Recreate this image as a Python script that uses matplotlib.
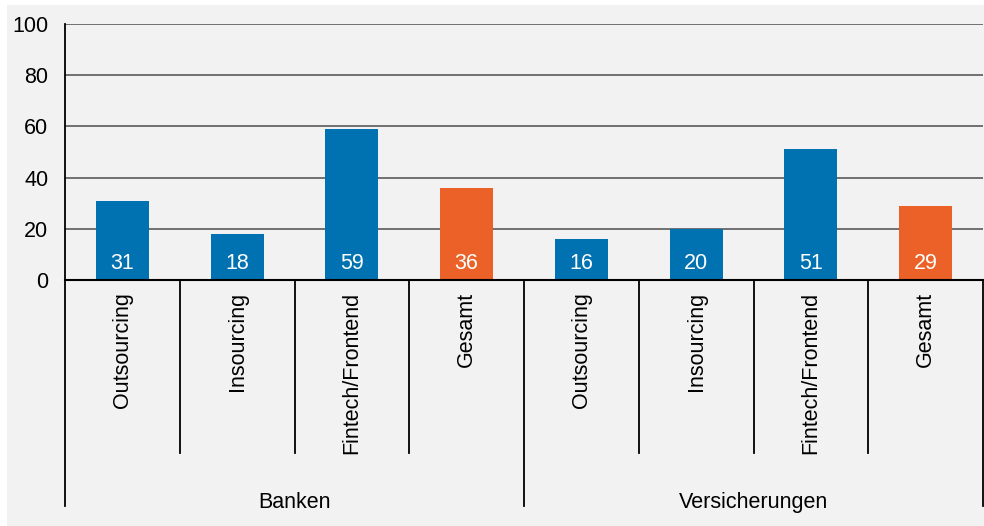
"""Grouped bar chart: Banken vs. Versicherungen by sourcing strategy."""

import matplotlib

matplotlib.use("Agg")

import matplotlib.pyplot as plt
import matplotlib.transforms as mtransforms
from matplotlib.patches import Rectangle

plt.rcParams["font.family"] = ["Liberation Sans", "DejaVu Sans"]

# Data.
groups = ["Banken", "Versicherungen"]
categories = ["Outsourcing", "Insourcing", "Fintech/Frontend", "Gesamt"]
banken = [31, 18, 59, 36]
versicherungen = [16, 20, 51, 29]
y_ticks = [0, 20, 40, 60, 80, 100]

BLUE = "#0071b1"
ORANGE = "#eb6127"
BG = "#f2f2f2"
GRID = "#666666"
FS = 15.5

W, H = 984, 526
fig = plt.figure(figsize=(W / 100, H / 100), dpi=100, facecolor="white")
fig.patches.append(
    Rectangle((7 / W, 0), 1 - 7 / W, 1 - 5 / H, transform=fig.transFigure,
              facecolor=BG, edgecolor="none", zorder=-10)
)

ax = fig.add_axes([65 / W, 1 - 280 / H, (983 - 65) / W, 256 / H])
ax.set_facecolor(BG)

values = banken + versicherungen
labels = categories * len(groups)
colors = [ORANGE if c == "Gesamt" else BLUE for c in labels]
xs = list(range(len(values)))

bars = ax.bar(xs, values, width=0.46, color=colors, zorder=3)
for b, v in zip(bars, values):
    ax.text(b.get_x() + b.get_width() / 2, 6.3, f"{v}", ha="center", va="center",
            color="white", fontsize=FS, zorder=4)

ax.set_xlim(-0.5, len(values) - 0.5)
ax.set_ylim(0, 100)
ax.set_yticks(y_ticks)
ax.tick_params(axis="y", length=0, pad=12, labelsize=FS)
ax.set_xticks([])
ax.yaxis.grid(True, color=GRID, linewidth=1.3, zorder=1)
for side in ["top", "right", "bottom"]:
    ax.spines[side].set_visible(False)
ax.spines["left"].set_linewidth(1.3)
ax.axhline(0, color="black", linewidth=1.5, zorder=5, clip_on=False)

# Category axis below the plot: separators, rotated labels, group names.
trans = mtransforms.blended_transform_factory(ax.transData, ax.transAxes)
n_cat = len(categories)
for i in range(1, len(values)):
    x = i - 0.5
    y_end = -0.883 if i % n_cat == 0 else -0.676
    ax.plot([x, x], [0, y_end], color="black", linewidth=1.3, transform=trans,
            clip_on=False)
for x in (-0.5, len(values) - 0.5):
    ax.plot([x, x], [0, -0.883], color="black", linewidth=1.3, transform=trans,
            clip_on=False)

for x, lab in zip(xs, labels):
    ax.text(x, -0.048, lab, rotation=90, ha="center", va="top", fontsize=FS,
            transform=trans)

for g, name in enumerate(groups):
    center = g * n_cat + (n_cat - 1) / 2
    ax.text(center, -0.87, name, ha="center", va="center", fontsize=FS,
            transform=trans)

fig.savefig("out.png", dpi=100, facecolor=fig.get_facecolor())
